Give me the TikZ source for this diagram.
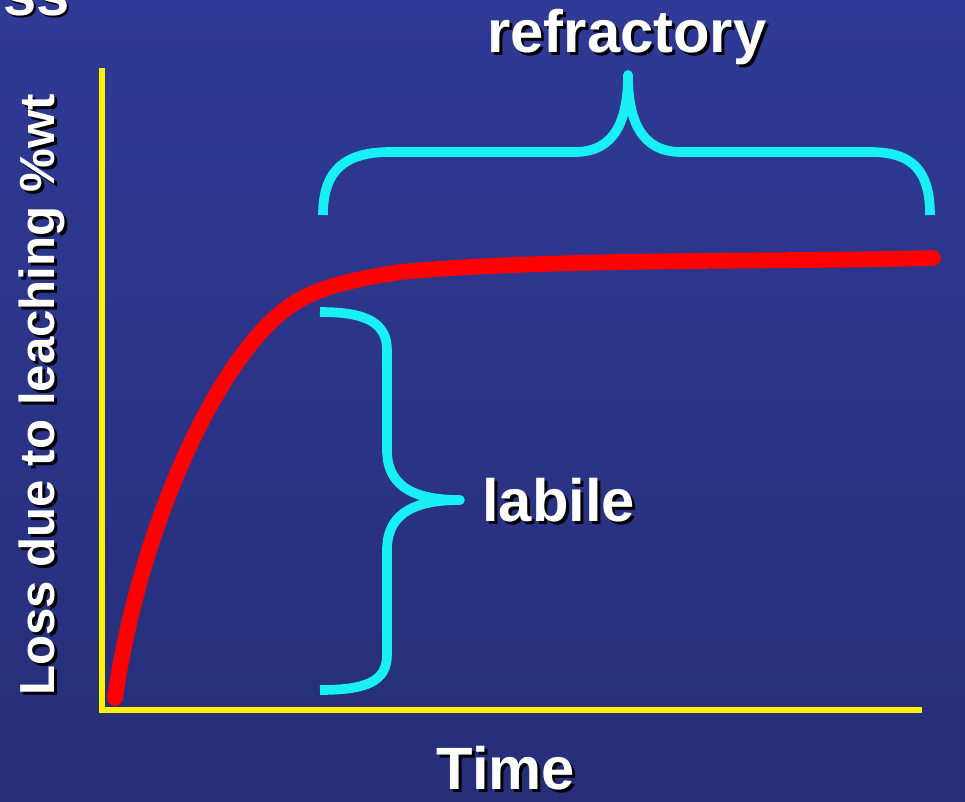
\documentclass[tikz,border=0pt]{standalone}
\usepackage{fontspec}
\setmainfont{Liberation Sans}
\usetikzlibrary{positioning}
\definecolor{bgtop}{HTML}{2F3A96}
\definecolor{bgbot}{HTML}{262E78}
\definecolor{brace}{HTML}{19F0F5}
\tikzset{
    label text/.style={text=white, font=\bfseries\fontsize{34}{38}\selectfont,
        inner sep=0pt},
    label shadow/.style={label text, text=black},
    }

\begin{document}
\begin{tikzpicture}[x=0.02cm, y=-0.02cm,
axisline/.style={yellow, line width=3.3pt},
curveline/.style={red, line width=9pt, line cap=round, line join=round},
braceline/.style={brace, line width=5.5pt, line join=round},
]
\useasboundingbox (0,0) rectangle (965,802);
\shade[top color=bgtop, bottom color=bgbot] (0,0) rectangle (965,802);
\begin{scope}
\clip (0,0) rectangle (965,802);
\node[label shadow, anchor=east] at (72,2) {ss};
\node[label text, anchor=east] (title) at (70,0) {ss};
\end{scope}
% axes
\coordinate (origin) at (102,710);
\coordinate (ytop) at (102,68);
\coordinate (xend) at (922,710);
\draw[axisline] (ytop) -- (origin) -- (xend);
% leaching curve
\draw[curveline] (115,698) .. controls (135,560) and (190,420) .. (250,345)
    .. controls (290,295) and (320,285) .. (400,272)
    .. controls (550,258) and (800,262) .. (933,258);
% refractory brace
\draw[braceline] (323,215) .. controls (323,170) and (345,152) .. (390,152)
    -- (575,152) .. controls (615,152) and (628,120) .. (628,75)
    .. controls (628,120) and (641,152) .. (681,152)
    -- (870,152) .. controls (912,152) and (930,170) .. (930,215);
% labile brace
\draw[braceline] (320,312) .. controls (365,312) and (387,322) .. (387,350)
    -- (387,450) .. controls (387,490) and (420,500) .. (460,500)
    .. controls (420,500) and (387,510) .. (387,550)
    -- (387,655) .. controls (387,682) and (365,690) .. (320,690);
% labels (with dark shadow)
\node[label shadow] at (630,40) {refractory};
\node[label text] (refractory) at (627,37) {refractory};
\node[label shadow, anchor=west] at (485,503) {labile};
\node[label text, anchor=west] (labile) at (482,500) {labile};
\node[label shadow] at (509,771) {Time};
\node[label text] (time) at (506,768) {Time};
\node[label shadow, rotate=90, font=\bfseries\fontsize{28}{32}\selectfont] at (45,398) {Loss due to leaching \%wt};
\node[label text, rotate=90, font=\bfseries\fontsize{28}{32}\selectfont] (yaxis) at (42,395) {Loss due to leaching \%wt};
\end{tikzpicture}
\end{document}
